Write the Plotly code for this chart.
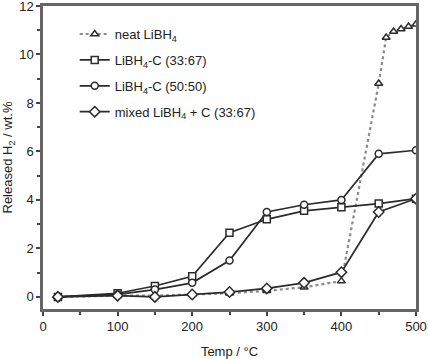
import plotly.graph_objects as go

neat_x = [20, 100, 150, 200, 250, 300, 350, 400, 450, 460, 470, 480, 490, 500]
neat_y = [0, 0.05, 0.05, 0.1, 0.15, 0.25, 0.4, 0.65, 8.8, 10.7, 10.95, 11.05, 11.15, 11.25]

temp = [20, 100, 150, 200, 250, 300, 350, 400, 450, 500]
c3367_y = [0, 0.15, 0.45, 0.85, 2.65, 3.2, 3.55, 3.7, 3.85, 4.05]
c5050_y = [0, 0.1, 0.3, 0.58, 1.5, 3.5, 3.8, 4.0, 5.9, 6.05]
mixed_y = [0, 0.05, 0.0, 0.1, 0.2, 0.35, 0.58, 1.02, 3.5, 4.05]

names = ["neat LiBH<sub>4</sub>", "LiBH<sub>4</sub>-C (33:67)",
         "LiBH<sub>4</sub>-C (50:50)", "mixed LiBH<sub>4</sub> + C (33:67)"]

LINE = "#2b2b2b"
FONT = "Liberation Sans, Arial"
fig = go.Figure()

fig.add_trace(go.Scatter(x=neat_x, y=neat_y, name=names[0], mode="lines+markers",
                         legendgroup="a",
                         line=dict(color="#8a8a8a", width=2.2, dash="dot"),
                         marker=dict(symbol="triangle-up", size=7, color="white",
                                     line=dict(color=LINE, width=1.5))))
for ys, nm, sym, g in [(c3367_y, names[1], "square", "b"), (c5050_y, names[2], "circle", "c"),
                       (mixed_y, names[3], "diamond", "d")]:
    fig.add_trace(go.Scatter(x=temp, y=ys, name=nm, mode="lines+markers", legendgroup=g,
                             line=dict(color=LINE, width=1.7),
                             marker=dict(symbol=sym, size=7 if sym != "diamond" else 8,
                                         color="white", line=dict(color=LINE, width=1.5))))

axis_common = dict(showline=True, mirror=True, linecolor="#666666", linewidth=2.5,
                   showgrid=False, zeroline=False, ticks="outside", ticklen=4,
                   tickwidth=1.5, tickcolor="#444", automargin=False,
                   ticklabeloverflow="allow",
                   tickfont=dict(family=FONT, size=13, color="#222"))

fig.update_xaxes(range=[0, 500], dtick=100, tick0=0,
                 minor=dict(dtick=50, ticks="outside", ticklen=3, tickcolor="#444"),
                 title=dict(text="Temp / °C", font=dict(family=FONT, size=13, color="#222")),
                 **axis_common)
fig.update_yaxes(range=[-0.5, 12], dtick=2, tick0=0,
                 minor=dict(dtick=1, ticks="outside", ticklen=3, tickcolor="#444"),
                 title=dict(text="Released H<sub>2</sub> / wt.%",
                            font=dict(family=FONT, size=13, color="#222")),
                 **axis_common)

fig.update_layout(width=428, height=359, margin=dict(l=43, r=12, t=6, b=50),
                  plot_bgcolor="white", paper_bgcolor="white",
                  legend=dict(x=0.085, y=0.957, xanchor="left", yanchor="top",
                              bgcolor="rgba(0,0,0,0)", tracegroupgap=6,
                              font=dict(family=FONT, size=13, color="#222")))

fig.write_html("out.html", config={"displayModeBar": False},
               post_script="document.body.style.margin='0';document.body.style.overflow='hidden';")
